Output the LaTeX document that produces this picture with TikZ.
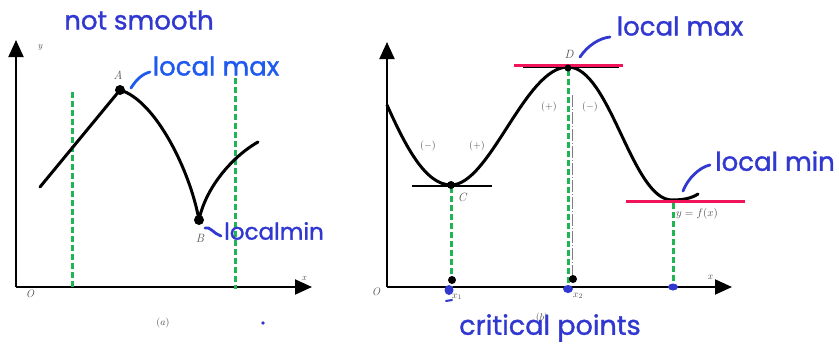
\documentclass[tikz,border=0pt]{standalone}
\usepackage{fontspec}
\newfontfamily\hwfont{Poppins}[FakeBold=1.3]
\usetikzlibrary{arrows.meta}
\definecolor{hwblue}{HTML}{3038D0}
\definecolor{hwblueb}{HTML}{1E5AF0}
\definecolor{tanred}{HTML}{F0145A}
\definecolor{dgreen}{HTML}{20B455}
\definecolor{lblgray}{HTML}{505050}
\tikzset{
  axis/.style={line width=2pt,-{Triangle[length=17pt,width=15pt]}},
  curve/.style={line width=3pt,line cap=round},
  gdash/.style={dgreen,line width=3pt,dash pattern=on 6pt off 3pt},
  hw/.style={hwblue,font=\hwfont\fontsize{26}{26}\selectfont,inner sep=0pt},
  hook/.style={hwblue,line width=2.8pt,line cap=round},
  lbl/.style={lblgray,font=\itshape\fontsize{12}{12}\selectfont,inner sep=0pt},
  sgn/.style={lblgray,font=\fontsize{10}{10}\selectfont,inner sep=0pt},
  dotb/.style={fill=black,draw=none},
  bdot/.style={fill=hwblue,draw=none},
  redl/.style={tanred,line width=3pt},
  tang/.style={black,line width=1.5pt}
}
\begin{document}
\begin{tikzpicture}[x=1pt,y=-1pt]
\useasboundingbox (0,0) rectangle (839,348);
% ---------- panel (a) ----------
\coordinate (Oa) at (16,287);
\coordinate (Ya) at (16,40);
\coordinate (Xa) at (312,287);
\draw[axis] (Oa) -- (Ya);
\draw[axis] (Oa) -- (Xa);
\node[lbl,font=\itshape\fontsize{11}{11}\selectfont] (Olab) at (30,294) {O};
\node[lbl,font=\itshape\fontsize{9}{9}\selectfont] (ylab) at (40,47) {y};
\node[lbl,font=\itshape\fontsize{9}{9}\selectfont] (xlab) at (304,279) {x};
\draw[gdash] (72,92) -- (72,287);
\draw[gdash] (235,78) -- (235,289);
\coordinate (a0) at (40,187);
\coordinate (A) at (120,90);
\coordinate (B) at (199,220);
\coordinate (a1) at (258,142);
\draw[curve,line join=round] (a0) -- (A) .. controls (155,100) and (190,170) .. (B) .. controls (205,190) and (230,158) .. (a1);
\fill[dotb] (A) circle (5);
\fill[dotb] (B) circle (5);
\node[lbl] (Alab) at (118,75) {A};
\node[lbl] (Blab) at (200,238) {B};
\node[lbl,font=\fontsize{10}{10}\selectfont] (alab) at (163,323) {$(a)$};
\fill[hwblue] (263,323) circle (1.8);
\node[hw] (ns) at (139,20) {not smooth};
\node[hw,hwblueb] (lmaxa) at (216,66) {local max};
\draw[hook,hwblueb] (131,88) .. controls (136,80) and (142,74) .. (150,72);
\node[hw,font=\hwfont\fontsize{23}{23}\selectfont] (lmina) at (274,231) {localmin};
\draw[hook] (205,228) .. controls (210,226) and (214,234) .. (221,236);
% ---------- panel (b) ----------
\coordinate (Ob) at (387,287);
\coordinate (Yb) at (387,42);
\coordinate (Xb) at (732,287);
\draw[axis] (Ob) -- (Yb);
\draw[axis] (Ob) -- (Xb);
\node[lbl,font=\itshape\fontsize{11}{11}\selectfont] (Olabb) at (376,292) {O};
\node[lbl,font=\itshape\fontsize{10}{10}\selectfont] (xlabb) at (710,277) {x};
\coordinate (b0) at (387,105);
\coordinate (C) at (451,185);
\coordinate (D) at (568,67);
\coordinate (E) at (672,200);
\coordinate (b1) at (698,194);
\draw[tang] (412,186) -- (492,186);
\draw[tang] (523,67) -- (619,67);
\draw[gray,line width=0.6pt,dash pattern=on 12pt off 2pt on 1pt off 2pt] (572,95) -- (572,280);
\draw[gdash] (451,187) -- (451,287);
\draw[gdash] (568,70) -- (568,283);
\draw[gdash] (673,203) -- (673,287);
\draw[curve] (b0) .. controls (405,145) and (425,185) .. (C) .. controls (490,185) and (525,67) .. (D) .. controls (610,67) and (632,200) .. (E) .. controls (684,200) and (692,198) .. (b1);
\draw[redl] (514,65) -- (623,65);
\draw[redl] (626,201) -- (745,201);
\fill[dotb] (C) circle (4);
\fill[dotb] (568,68) circle (3.5);
\fill[dotb] (452,280) circle (4);
\fill[dotb] (573,279) circle (4);
\node[lbl] (Clab) at (462,197) {C};
\node[lbl] (Dlab) at (569,54) {D};
\node[sgn] (s1) at (428,146) {$(-)$};
\node[sgn] (s2) at (477,146) {$(+)$};
\node[sgn] (s3) at (549,107) {$(+)$};
\node[sgn] (s4) at (590,107) {$(-)$};
\node[lbl,font=\fontsize{11}{11}\selectfont] (fx) at (697,214) {$y=f(x)$};
\node[lbl,font=\fontsize{10}{10}\selectfont] (x1) at (457,297) {$x_1$};
\node[lbl,font=\fontsize{10}{10}\selectfont] (x2) at (578,296) {$x_2$};
\node[lbl,font=\fontsize{10}{10}\selectfont] (blab) at (542,318) {$(b)$};
\fill[bdot] (449,290) ellipse (4.5 and 5);
\fill[bdot] (568,289) ellipse (5 and 4);
\fill[bdot] (673,287) ellipse (5 and 3.5);
\draw[hook,line width=2pt] (446,301) -- (452,300);
\node[hw,font=\hwfont\fontsize{27}{27}\selectfont] (crit) at (550,328) {critical points};
\node[hw] (lmaxb) at (680,26) {local max};
\draw[hook] (580,57) .. controls (588,45) and (600,38) .. (610,37);
\node[hw] (lminb) at (775,161) {local min};
\draw[hook] (683,191) .. controls (688,178) and (700,167) .. (710,165);
\end{tikzpicture}
\end{document}
